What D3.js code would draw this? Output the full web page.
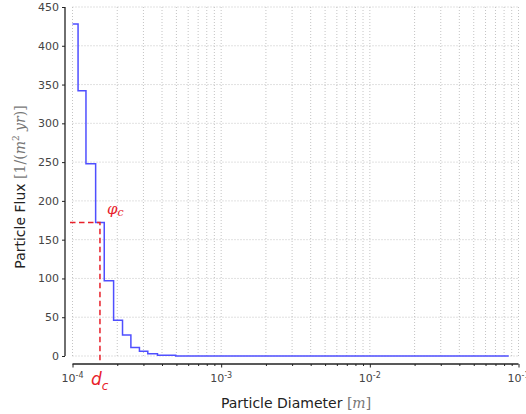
<!DOCTYPE html>
<html>
<head>
<meta charset="utf-8">
<script src="https://cdn.jsdelivr.net/npm/d3@7"></script>
<style>
  body { margin: 0; background: #fff; }
  text { font-family: "DejaVu Sans", sans-serif; }
</style>
</head>
<body>
<script>
// bin edges (m) and flux per bin
var binEdges = [1e-4, 1.09e-4, 1.232e-4, 1.431e-4, 1.635e-4, 1.89e-4, 2.17e-4,
                2.47e-4, 2.82e-4, 3.21e-4, 3.73e-4, 4.95e-4, 8.6e-2];
var flux = [428, 342, 248, 172, 97, 46, 27, 11, 6, 3, 1, 0];
var yTicks = [0, 50, 100, 150, 200, 250, 300, 350, 400, 450];
var xMajor = [-4, -3, -2, -1];
var dCrit = 1.53e-4;
var phiCrit = 172;

var W = 526, H = 414;
var svg = d3.select("body").append("svg")
  .attr("width", W)
  .attr("height", H);

var x = d3.scaleLog().domain([1e-4, 1e-1]).range([72.5, 518.5]);
var y = d3.scaleLinear().domain([0, 450]).range([356, 7]);

var gridColor = "#bdbdbd";

// minor + major log ticks for the grid
var xAll = [];
for (var e = -4; e < -1; e++) {
  for (var k = 1; k < 10; k++) xAll.push(k * Math.pow(10, e));
}
xAll.push(1e-1);

svg.append("g").selectAll("line")
  .data(xAll)
  .enter().append("line")
  .attr("x1", function(d){ return x(d); })
  .attr("x2", function(d){ return x(d); })
  .attr("y1", y(450))
  .attr("y2", y(0))
  .attr("stroke", gridColor)
  .attr("stroke-width", 0.9)
  .attr("stroke-dasharray", "1,2");

svg.append("g").selectAll("line")
  .data(yTicks)
  .enter().append("line")
  .attr("x1", x(1e-4))
  .attr("x2", x(1e-1))
  .attr("y1", function(d){ return y(d); })
  .attr("y2", function(d){ return y(d); })
  .attr("stroke", gridColor)
  .attr("stroke-width", 0.9)
  .attr("stroke-dasharray", "1,2");

// y axis (offset spine)
var yAxis = d3.axisLeft(y).tickValues(yTicks).tickSize(3).tickPadding(3);
var gy = svg.append("g").attr("transform", "translate(65,0)").call(yAxis);
gy.select(".domain").attr("stroke", "#222").attr("stroke-width", 1.3).attr("d", "M0," + y(450) + "V" + y(0));
gy.selectAll(".tick line").attr("stroke", "#222");
gy.selectAll(".tick text").attr("fill", "#444").style("font-size", "11px").style("font-family", "DejaVu Sans");

// x axis (offset spine)
var xAxis = d3.axisBottom(x).tickValues(xAll).tickSize(2).tickFormat("");
var gx = svg.append("g").attr("transform", "translate(0,364)").call(xAxis);
gx.select(".domain").attr("stroke", "#222").attr("stroke-width", 1.3).attr("d", "M" + x(1e-4) + ",0H" + x(1e-1));
gx.selectAll(".tick line").attr("stroke", "#222")
  .attr("y2", function(d){ return Math.abs(Math.log10(d) - Math.round(Math.log10(d))) < 1e-9 ? 3.5 : 2; });

var labs = svg.append("g").selectAll("text")
  .data(xMajor)
  .enter().append("text")
  .attr("x", function(d){ return x(Math.pow(10, d)); })
  .attr("y", 382)
  .attr("text-anchor", "middle")
  .attr("fill", "#444")
  .style("font-size", "11px");
labs.append("tspan").text("10");
labs.append("tspan").text(function(d){ return "-" + Math.abs(d); })
  .attr("dy", -4).style("font-size", "8px");

// step line
var pts = [];
for (var i = 0; i < flux.length; i++) {
  pts.push([binEdges[i], flux[i]]);
  pts.push([binEdges[i + 1], flux[i]]);
}
var line = d3.line()
  .x(function(d){ return x(d[0]); })
  .y(function(d){ return y(d[1]); });
svg.append("path")
  .datum(pts)
  .attr("d", line)
  .attr("fill", "none")
  .attr("stroke", "#4f4fff")
  .attr("stroke-width", 1.5);

// critical point markers
var red = "#e8202a";
svg.append("path")
  .attr("d", "M70," + y(phiCrit) + "H" + x(dCrit) + "V363")
  .attr("fill", "none")
  .attr("stroke", red)
  .attr("stroke-width", 1.5)
  .attr("stroke-dasharray", "5.5,3.5");

var phi = svg.append("text")
  .attr("x", 107)
  .attr("y", 214)
  .attr("fill", red)
  .style("font-size", "15px")
  .style("font-style", "italic")
  .style("font-family", "DejaVu Serif");
phi.append("tspan").text("φ");
phi.append("tspan").text("c").attr("dy", 2).style("font-size", "11px");

var dc = svg.append("text")
  .attr("x", 91)
  .attr("y", 385)
  .attr("fill", red)
  .style("font-size", "17px")
  .style("font-style", "italic")
  .style("font-family", "DejaVu Sans");
dc.append("tspan").text("d");
dc.append("tspan").text("c").attr("dy", 5).style("font-size", "12px");

// axis labels
var xl = svg.append("text")
  .attr("x", 296)
  .attr("y", 408)
  .attr("text-anchor", "middle")
  .attr("fill", "#222")
  .style("font-size", "14px");
xl.append("tspan").text("Particle Diameter ");
xl.append("tspan").attr("fill", "#777").style("font-family", "DejaVu Serif").text("[");
xl.append("tspan").attr("fill", "#777").style("font-family", "DejaVu Serif").style("font-style", "italic").text("m");
xl.append("tspan").attr("fill", "#777").style("font-family", "DejaVu Serif").text("]");

var yl = svg.append("text")
  .attr("transform", "translate(25,187) rotate(-90)")
  .attr("text-anchor", "middle")
  .attr("fill", "#222")
  .style("font-size", "14px");
yl.append("tspan").text("Particle Flux ");
yl.append("tspan").attr("fill", "#777").style("font-family", "DejaVu Serif").text("[1/(");
yl.append("tspan").attr("fill", "#777").style("font-family", "DejaVu Serif").style("font-style", "italic").text("m");
yl.append("tspan").attr("fill", "#777").style("font-family", "DejaVu Serif").style("font-size", "9px").attr("dy", -6).text("2");
yl.append("tspan").attr("fill", "#777").style("font-family", "DejaVu Serif").style("font-style", "italic").attr("dy", 6).text(" yr");
yl.append("tspan").attr("fill", "#777").style("font-family", "DejaVu Serif").text(")]");
</script>
</body>
</html>
